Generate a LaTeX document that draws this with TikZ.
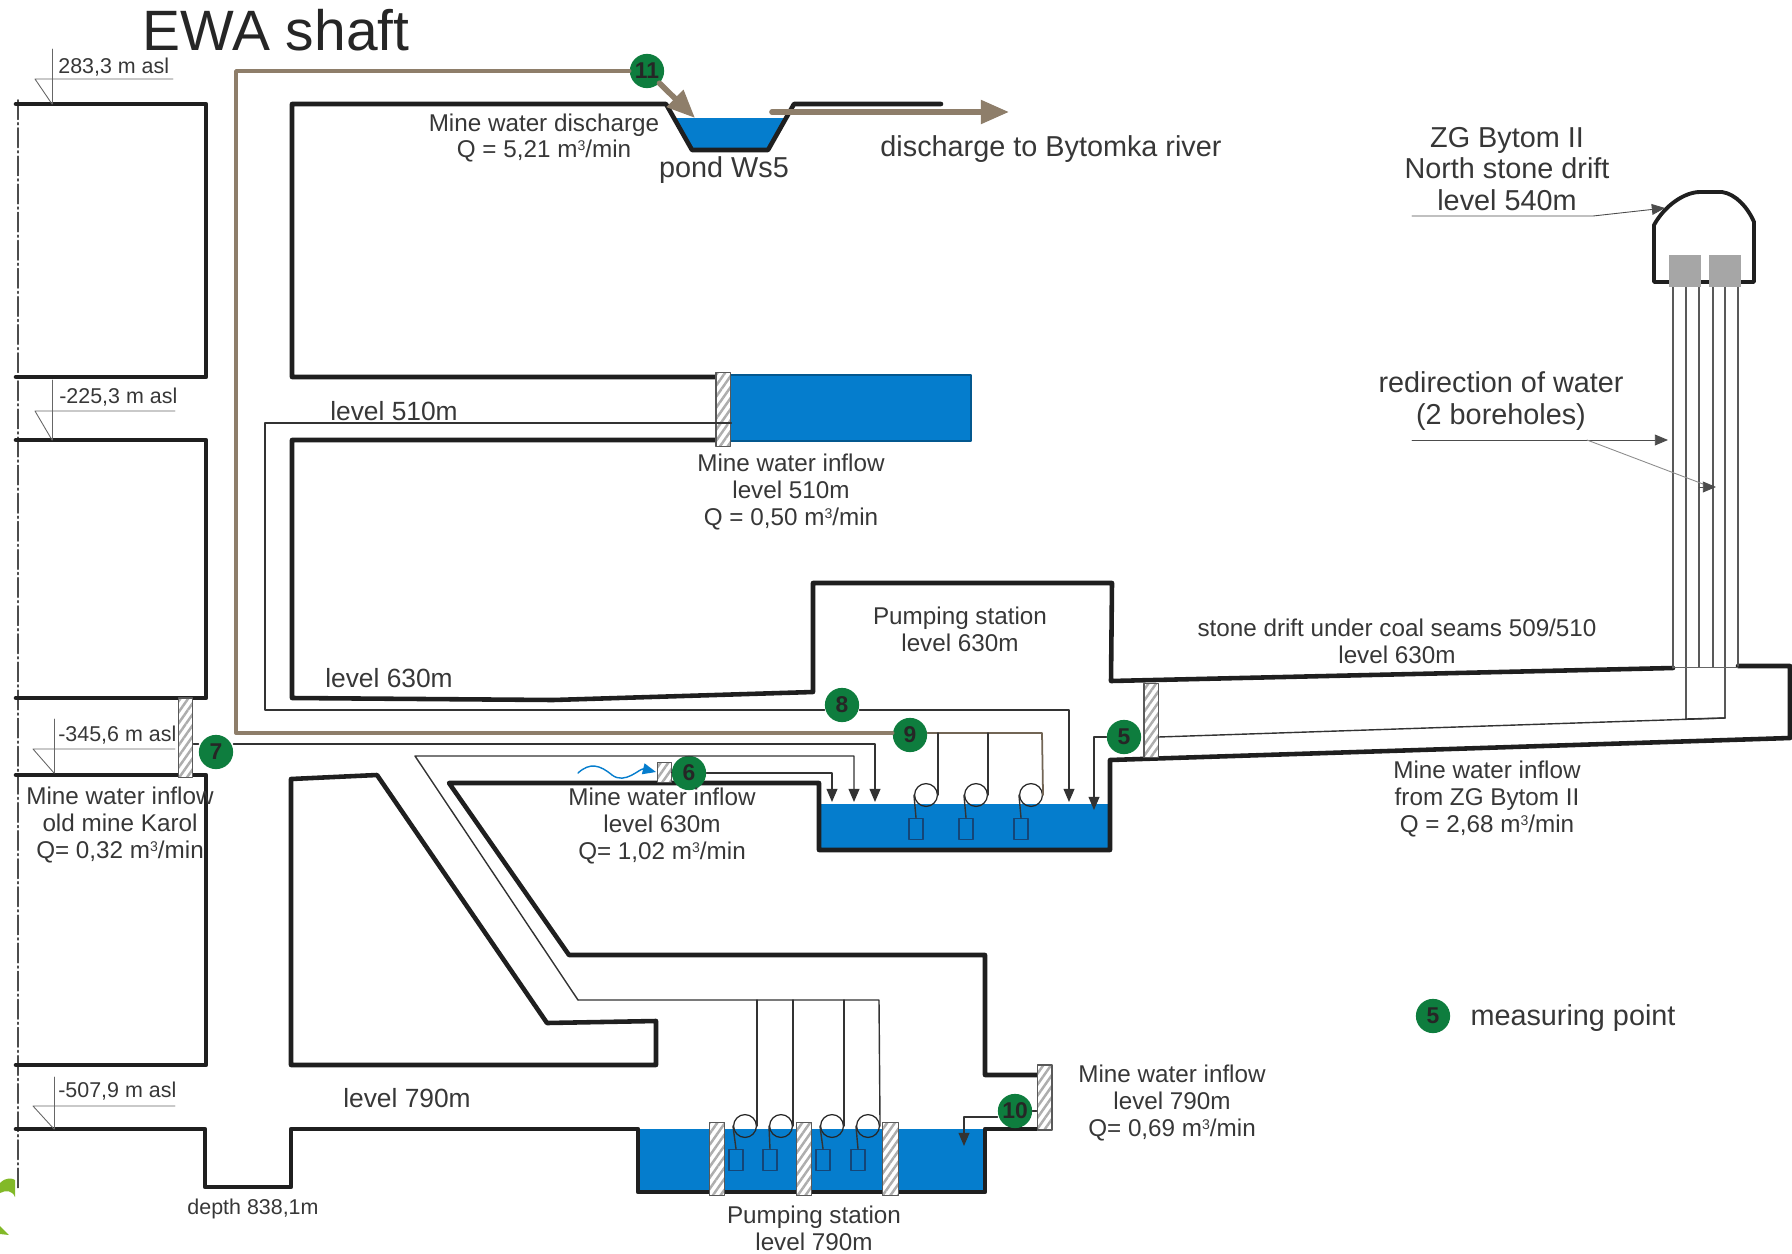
\documentclass[tikz,border=0pt]{standalone}
\usepackage{fontspec}
\setmainfont{Liberation Sans}
\usepackage{pgf,tikz}
\usetikzlibrary{arrows.meta,patterns.meta}
\definecolor{waterblue}{RGB}{5,125,205}
\definecolor{ptgreen}{RGB}{14,125,62}
\definecolor{pipebrown}{RGB}{142,126,106}
\definecolor{inkgray}{RGB}{55,55,55}
\definecolor{leafgreen}{RGB}{130,185,40}
\definecolor{pumpblue}{RGB}{20,70,120}
\newcommand{\mcube}{m\raisebox{.55ex}{\fontsize{8}{8}\selectfont 3}/min}
\tikzset{
wall/.style={line width=2.6pt,color=black!88},
pipe/.style={line width=0.8pt,color=black!80},
brownpipe/.style={line width=2.2pt,color=pipebrown},
brownflow/.style={line width=3.2pt,color=pipebrown,-{Triangle[length=16pt,width=13pt]}},
bore/.style={line width=1.0pt,color=black!65},
markline/.style={line width=0.5pt,color=black!60},
thinarrow/.style={line width=0.5pt,color=black!70},
ptnode/.style={circle,fill=ptgreen,minimum size=19.5pt,inner sep=0pt,font=\fontsize{13}{13}\selectfont\bfseries,text=black!85},
plugbox/.style={draw=black!65,line width=0.6pt,preaction={fill=white},pattern={Lines[angle=55,distance=3.6pt,line width=1.4pt]},pattern color=black!32,inner sep=0pt},
pumpcirc/.style={circle,draw=black!85,line width=0.7pt,minimum size=13pt,inner sep=0pt},
pumpbox/.style={draw=pumpblue,line width=0.7pt,minimum width=8pt,minimum height=12pt,inner sep=0pt},
labsmall/.style={text=inkgray,inner sep=0pt,font=\fontsize{12.2}{14}\selectfont},
labmid/.style={text=inkgray,inner sep=0pt,align=center,font=\fontsize{13.8}{15.3}\selectfont},
lablevel/.style={text=inkgray,inner sep=0pt,font=\fontsize{15}{15}\selectfont},
labbig/.style={text=inkgray,inner sep=0pt,align=center,font=\fontsize{16.4}{18.1}\selectfont}
}
\begin{document}
\begin{tikzpicture}[line cap=round,line join=round,>={Triangle[length=7.5pt,width=6.2pt]},x=0.02cm,y=-0.02cm]
\useasboundingbox (0,0) rectangle (1792,1254);
\fill[leafgreen] (0,1183) .. controls (6,1177) and (12,1178) .. (15,1180) -- (15,1197) .. controls (12,1190) and (6,1190) .. (0,1193) -- cycle;
\fill[leafgreen] (0,1226) -- (9,1235) -- (0,1234) -- cycle;
\draw[line width=1.0pt,color=black!70,dash pattern=on 11pt off 2pt on 1pt off 2pt] (18,100) -- (18,1188);
\fill[waterblue] (676,118) -- (786,118) -- (768,150) -- (692,150) -- cycle;
\draw[fill=waterblue,draw=waterblue!70!black,line width=0.6pt] (730,375) rectangle (971,441);
\fill[waterblue] (819,804) rectangle (1110,850);
\fill[waterblue] (638,1129) rectangle (985,1192);
\draw[wall] (16,104) -- (206,104) -- (206,377) -- (16,377);
\draw[wall] (16,440) -- (206,440) -- (206,698) -- (16,698);
\draw[wall] (16,775) -- (206,775) -- (206,1065) -- (16,1065);
\draw[wall] (16,1129) -- (205,1129) -- (205,1187) -- (291,1187) -- (291,1129) -- (638,1129) -- (638,1192) -- (985,1192) -- (985,1129) -- (1037,1129);
\draw[wall] (941,104) -- (794,104) -- (768,150) -- (692,150) -- (666,104) -- (292,104) -- (292,377) -- (716,377);
\draw[wall] (716,440) -- (292,440) -- (292,698) -- (553,700) -- (813,692) -- (813,583) -- (1112,583) -- (1111,681) -- (1673,668);
\draw[wall] (1738,666) -- (1790,666) -- (1790,738) -- (1110,760) -- (1110,850) -- (819,850) -- (819,783) -- (449,783) -- (569,955) -- (985,955) -- (985,1075) -- (1037,1075);
\draw[wall] (291,1065) -- (291,779) -- (377,775) -- (547,1023) -- (656,1021) -- (656,1065) -- cycle;
\draw[wall,line width=2.2pt] (1669,282) -- (1654,282) -- (1654,225) .. controls (1665,205) and (1685,192) .. (1700,192) -- (1722,192) .. controls (1736,194) and (1748,208) .. (1754,222) -- (1754,282) -- (1741,282);
\draw[wall,line width=2.2pt] (1701,282) -- (1709,282);
\draw[bore] (1673,287) -- (1673,668);
\draw[bore] (1686,287) -- (1686,719);
\draw[bore] (1699,287) -- (1699,667);
\draw[bore] (1713,287) -- (1713,667);
\draw[bore] (1725,287) -- (1725,718);
\draw[bore] (1738,287) -- (1738,666);
\draw[markline] (1673,667) -- (1738,667);
\fill[black!35] (1669,255) rectangle (1701,287);
\fill[black!35] (1709,255) rectangle (1741,287);
\node[ptnode] (pt11) at (647,71) {11};
\node[ptnode] (pt7) at (216,752) {7};
\node[ptnode] (pt8) at (842,705) {8};
\node[ptnode] (pt9) at (910,735) {9};
\node[ptnode] (pt6) at (689,773) {6};
\node[ptnode] (pt5) at (1124,737) {5};
\node[ptnode] (pt10) at (1015,1111) {10};
\node[ptnode] (ptkey) at (1433,1016) {5};
\node[pumpcirc] (pua) at (926,795) {};
\node[pumpcirc] (pub) at (976,795) {};
\node[pumpcirc] (puc) at (1031,795) {};
\node[pumpbox] (bxa) at (916,829) {};
\node[pumpbox] (bxb) at (966,829) {};
\node[pumpbox] (bxc) at (1021,829) {};
\node[pumpcirc] (pud) at (745,1126) {};
\node[pumpcirc] (pue) at (781,1126) {};
\node[pumpcirc] (puf) at (832,1126) {};
\node[pumpcirc] (pug) at (868,1126) {};
\node[pumpbox] (bxd) at (736,1160) {};
\node[pumpbox] (bxe) at (770,1160) {};
\node[pumpbox] (bxf) at (823,1160) {};
\node[pumpbox] (bxg) at (858,1160) {};
\node[plugbox,minimum width=8pt,minimum height=42.5pt] (plug510) at (723,409.5) {};
\node[plugbox,minimum width=8.5pt,minimum height=45pt] (plugKarol) at (185.5,737.5) {};
\node[plugbox,minimum width=7.5pt,minimum height=11pt] (plug630) at (664.5,772.5) {};
\node[plugbox,minimum width=8pt,minimum height=42.5pt] (plugNorth) at (1151,720.5) {};
\node[plugbox,minimum width=8.5pt,minimum height=37pt] (plug790) at (1044.5,1097.5) {};
\node[plugbox,minimum width=9pt,minimum height=42pt] (plugA) at (717,1159) {};
\node[plugbox,minimum width=9pt,minimum height=42pt] (plugB) at (804,1159) {};
\node[plugbox,minimum width=9pt,minimum height=42pt] (plugC) at (890.5,1159) {};
\coordinate (drainTop) at (236,71);
\coordinate (drainBot) at (236,733);
\coordinate (drainEnd) at (1042,733);
\coordinate (pondIn) at (695,118);
\coordinate (riverA) at (772,112);
\coordinate (riverB) at (1009,112);
\coordinate (in510a) at (265,423);
\coordinate (in510b) at (265,710);
\coordinate (in510c) at (1069,710);
\coordinate (in510d) at (1069,802);
\coordinate (in7a) at (875,744);
\coordinate (in7b) at (875,802);
\coordinate (in6) at (832,802);
\coordinate (lowA) at (415,756);
\coordinate (lowB) at (854,756);
\coordinate (lowC) at (854,802);
\coordinate (lowD) at (578,1000);
\coordinate (lowE) at (879,1000);
\coordinate (in5a) at (1094,737);
\coordinate (in5b) at (1094,810);
\coordinate (boreEnd) at (1725,718);
\coordinate (in10a) at (964,1117);
\coordinate (in10b) at (964,1146);
\draw[brownpipe] (pt11) -- (drainTop) -- (drainBot) -- (pt9.west |- drainBot);
\draw[line width=1.0pt,color=pipebrown!80!black] (pt9.east |- drainEnd) -- (drainEnd) -- (puc.east);
\draw[brownflow] (pt11) -- (pondIn);
\draw[brownflow] (riverA) -- (riverB);
\draw[pipe] (plug510.east |- in510a) -- (in510a) -- (in510b) -- (pt8.west |- in510b);
\draw[pipe,->] (pt8.east |- in510c) -- (in510c) -- (in510d);
\draw[pipe] (plugKarol.east |- in7a) -- (pt7.west |- in7a);
\draw[pipe,->] (pt7.east |- in7a) -- (in7a) -- (in7b);
\draw[pipe,->] (pt6) -| (in6);
\draw[pipe] (plug630.east) -- (pt6);
\draw[pipe,->] (lowD) -- (lowA) -- (lowB) -- (lowC);
\draw[pipe] (lowD) -- (lowE) -- (pug.east);
\draw[pipe] (pud.east |- lowE) -- (pud.east);
\draw[pipe] (pue.east |- lowE) -- (pue.east);
\draw[pipe] (puf.east |- lowE) -- (puf.east);
\draw[pipe] (pua.east |- drainEnd) -- (pua.east);
\draw[pipe] (pub.east |- drainEnd) -- (pub.east);
\draw[pipe] (pua.west) -- (bxa.north);
\draw[pipe] (pub.west) -- (bxb.north);
\draw[pipe] (puc.west) -- (bxc.north);
\draw[pipe] (pud.west) -- (bxd.north);
\draw[pipe] (pue.west) -- (bxe.north);
\draw[pipe] (puf.west) -- (bxf.north);
\draw[pipe] (pug.west) -- (bxg.north);
\draw[pipe] (boreEnd) -- (1686,719);
\draw[pipe] (boreEnd) -- (plugNorth.east |- pt5);
\draw[pipe,->] (pt5) -- (in5a) -- (in5b);
\draw[pipe] (plug790.west |- pt10) -- (pt10);
\draw[pipe,->] (pt10.west |- in10a) -- (in10a) -- (in10b);
\draw[line width=0.8pt,color=waterblue,->] (578,773) .. controls (590,762) and (600,765) .. (612,775) .. controls (625,785) and (640,768) .. (656,772);
\draw[markline] (52,49) -- (52,104);
\draw[markline] (173,79) -- (35,79) -- (52,104);
\draw[markline] (52,380) -- (52,440);
\draw[markline] (175,411) -- (35,411) -- (52,440);
\draw[markline] (54,719) -- (54,773);
\draw[markline] (175,749) -- (33,749) -- (54,773);
\draw[markline] (54,1077) -- (54,1129);
\draw[markline] (175,1106) -- (33,1106) -- (54,1129);
\draw[thinarrow,->] (1412,216) -- (1593,216) -- (1665,208);
\draw[thinarrow,->] (1412,440) -- (1668,440);
\draw[thinarrow,color=black!45] (1587,440) -- (1703,484);
\draw[thinarrow,->] (1699,487) -- (1716,487);
\node[font=\fontsize{32.4}{33}\selectfont,text=black!85,inner sep=0pt] (title) at (276,30) {EWA shaft};
\node[labsmall,anchor=west] (ascA) at (58,67) {283,3 m asl};
\node[labsmall,anchor=west] (ascB) at (59,397) {-225,3 m asl};
\node[labsmall,anchor=west] (ascC) at (58,735) {-345,6 m asl};
\node[labsmall,anchor=west] (ascD) at (58,1091) {-507,9 m asl};
\node[labmid] (txtDisch) at (544,138) {Mine water discharge\\Q = 5,21 \mcube};
\node[labbig] (txtPond) at (724,170) {pond Ws5};
\node[labbig] (txtRiver) at (1051,149) {discharge to Bytomka river};
\node[lablevel] (txtL510) at (394,411) {level 510m};
\node[labmid] (txtIn510) at (791,492) {Mine water inflow\\level 510m\\Q = 0,50 \mcube};
\node[lablevel] (txtL630) at (389,678) {level 630m};
\node[labmid] (txtPs630) at (960,629) {Pumping station\\level 630m};
\node[labmid] (txtDrift) at (1397,641) {stone drift under coal seams 509/510\\level 630m};
\node[labmid] (txtInBytom) at (1487,799) {Mine water inflow\\from ZG Bytom II\\Q = 2,68 \mcube};
\node[labmid] (txtIn630) at (662,826) {Mine water inflow\\level 630m\\Q= 1,02 \mcube};
\node[labmid] (txtKarol) at (120,825) {Mine water inflow\\old mine Karol\\Q= 0,32 \mcube};
\node[lablevel] (txtL790) at (407,1098) {level 790m};
\node[labsmall] (txtDepth) at (253,1209) {depth 838,1m};
\node[labmid] (txtPs790) at (814,1228) {Pumping station\\level 790m};
\node[labmid] (txtIn790) at (1172,1103) {Mine water inflow\\level 790m\\Q= 0,69 \mcube};
\node[labbig] (txtNorth) at (1507,169) {ZG Bytom II\\North stone drift\\level 540m};
\node[labbig] (txtRedir) at (1501,401) {redirection of water\\(2 boreholes)};
\node[labbig] (txtKey) at (1573,1018) {measuring point};
\end{tikzpicture}
\end{document}
